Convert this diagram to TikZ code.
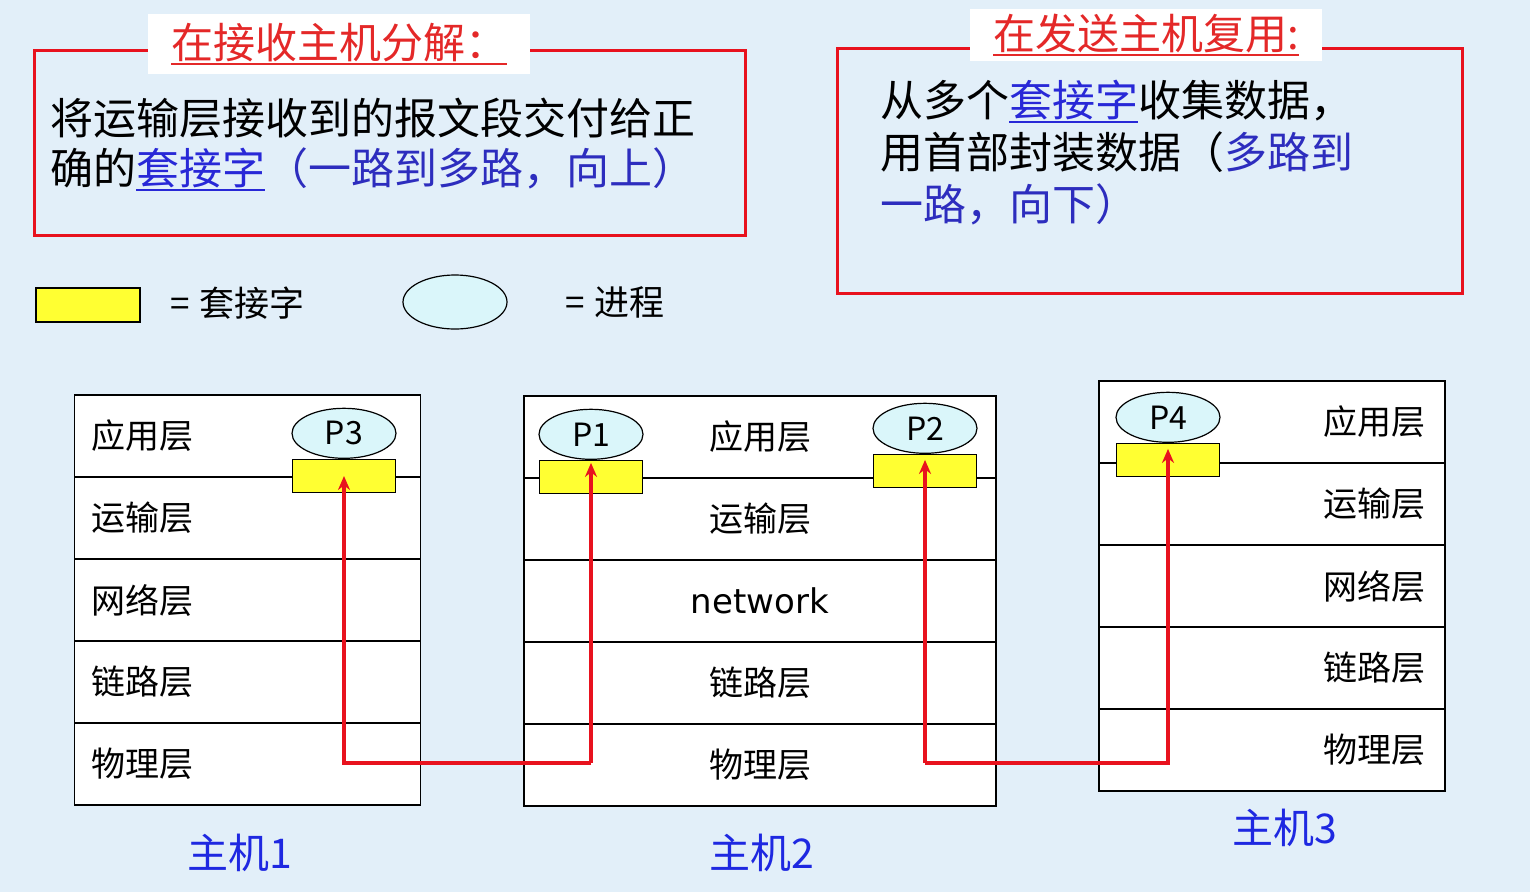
\documentclass[tikz,border=0pt]{standalone}
\usepackage{fontspec}
\setmainfont{Noto Sans CJK SC}
\newfontfamily\netfont{DejaVu Sans}
\usetikzlibrary{arrows.meta,positioning,shapes.geometric}
\definecolor{bgblue}{RGB}{226,239,249}
\definecolor{framered}{RGB}{232,18,30}
\definecolor{titlered}{RGB}{228,40,40}
\definecolor{linkblue}{RGB}{40,40,215}
\definecolor{parenblue}{RGB}{45,45,190}
\definecolor{hostblue}{RGB}{30,40,225}
\definecolor{sockyellow}{RGB}{255,255,50}
\definecolor{proccyan}{RGB}{218,246,250}
\newcommand{\setfs}[1]{\fontsize{#1}{#1}\selectfont}
\newcommand{\ulwords}[2][-7pt]{\setbox0\hbox{#2}\rlap{\rule[#1]{\wd0}{2pt}}\box0}

\begin{document}
\begin{tikzpicture}[x=1pt,y=1pt,>=Stealth,
  frame/.style={draw=framered,line width=3pt},
  titlebox/.style={fill=white,text=titlered,inner sep=0pt,font=\setfs{42}},
  bodytext/.style={anchor=base west,inner sep=0pt,font=\setfs{43}},
  keytext/.style={anchor=west,inner sep=0pt,font=\setfs{35}},
  layer/.style={draw,line width=1.5pt,fill=white,inner sep=0pt,minimum height=82pt,font=\setfs{34}},
  h1/.style={layer,minimum width=346pt,text width=312pt,align=left},
  h2/.style={layer,minimum width=472pt,align=center},
  h3/.style={layer,minimum width=346pt,text width=306pt,align=right},
  sock/.style={draw,line width=1.2pt,fill=sockyellow,minimum width=103pt,minimum height=33pt,inner sep=0pt},
  proc/.style={ellipse,draw,line width=1.2pt,fill=proccyan,minimum width=104pt,minimum height=50pt,inner sep=0pt,font=\setfs{32}},
  uparrow/.style={color=framered,line width=3.4pt,arrows={-Stealth[length=14pt,width=12pt]}},
  hostname/.style={text=hostblue,font=\setfs{41}}]
% page and background
\useasboundingbox (0,0) rectangle (1530,-892);
\fill[bgblue] (0,0) rectangle (1530,-892);
% the two red boxes
\draw[frame] (34,-50) rectangle (745,-235);
\draw[frame] (837,-48) rectangle (1462,-293);
\node[titlebox,minimum width=382pt,minimum height=60pt] (t1) at (339,-44) {\ulwords{在接收主机分解：}};
\node[titlebox,minimum width=352pt,minimum height=52pt] (t2) at (1146,-35) {\ulwords{在发送主机复用:}};
\node[bodytext] (r1a) at (50,-134) {将运输层接收到的报文段交付给正};
\node[bodytext] (r1b) at (50,-184) {确的\textcolor{linkblue}{\ulwords{套接字}}\textcolor{parenblue}{（一路到多路，向上）}};
\node[bodytext] (r2a) at (880,-116) {从多个\textcolor{linkblue}{\ulwords{套接字}}收集数据，};
\node[bodytext] (r2b) at (880,-168) {用首部封装数据（\textcolor{parenblue}{多路到}};
\node[bodytext] (r2c) at (880,-220) {\textcolor{parenblue}{一路，向下）}};
% legend
\node[sock,minimum width=104pt,minimum height=34pt] (keysock) at (88,-305) {};
\node[keytext] (keysocktxt) at (170,-303) {=\hspace{10pt}套接字};
\node[proc,minimum height=54pt] (keyproc) at (455,-302) {};
\node[keytext] (keyproctxt) at (565,-302) {=\hspace{10pt}进程};
% protocol stacks
\foreach \t [count=\i] in {应用层,运输层,网络层,链路层,物理层}
  \node[h1] (h1l\i) at (247.5,{-436-82*(\i-1)}) {\t};
\foreach \t [count=\i] in {应用层,运输层,{\netfont network},链路层,物理层}
  \node[h2] (h2l\i) at (760,{-437-82*(\i-1)}) {\t};
\foreach \t [count=\i] in {应用层,运输层,网络层,链路层,物理层}
  \node[h3] (h3l\i) at (1272,{-422-82*(\i-1)}) {\t};
\node[hostname] (n1) at (240,-853) {主机1};
\node[hostname] (n2) at (762,-853) {主机2};
\node[hostname] (n3) at (1285,-828) {主机3};
% sockets
\node[sock] (s3) at (344,-476) {};
\node[sock] (s1) at (591,-477) {};
\node[sock] (s2) at (925,-471) {};
\node[sock] (s4) at (1168,-460) {};
% segments going up
\coordinate (k12) at (s1 |- 0,-763);
\coordinate (k24) at (s2 |- 0,-763);
\draw[uparrow,shorten >=3pt] (k12) -- (s1.north);
\draw[uparrow] (k12) -| (s3.center);
\draw[uparrow,shorten >=6pt] (k24) -- (s2.north);
\draw[uparrow,shorten >=6pt] (k24) -| (s4.north);
% processes
\node[proc,above=0pt of s3] (p3) {P3};
\node[proc,above=0pt of s1] (p1) {P1};
\node[proc,above=0pt of s2] (p2) {P2};
\node[proc,above=0pt of s4] (p4) {P4};
\end{tikzpicture}
\end{document}
